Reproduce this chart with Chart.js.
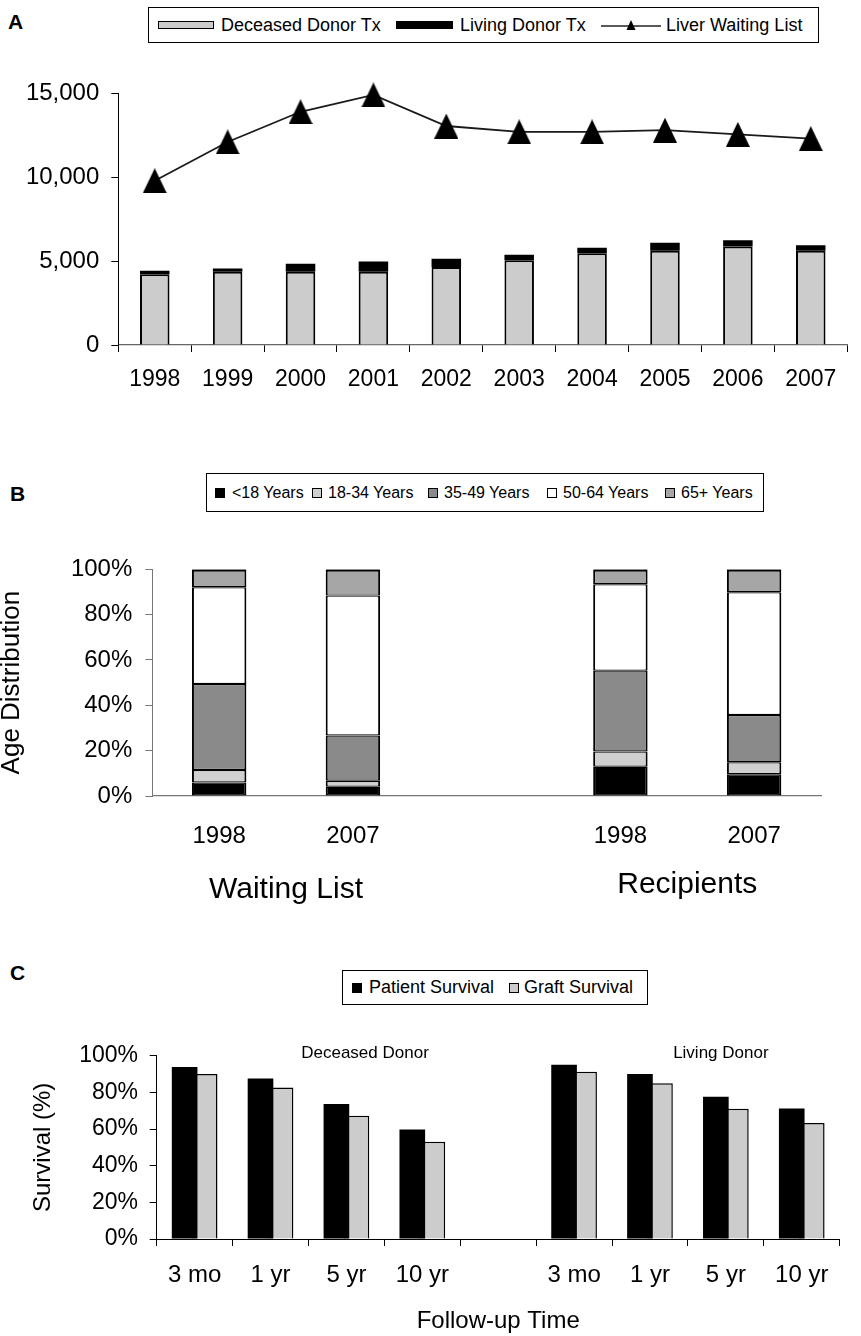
<!DOCTYPE html>
<html>
<head>
<meta charset="utf-8">
<script src="https://cdn.jsdelivr.net/npm/chart.js@4.4.1/dist/chart.umd.min.js"></script>
<style>
html,body{margin:0;padding:0;background:#fff;}
body{width:861px;height:1336px;position:relative;overflow:hidden;font-family:"Liberation Sans",Arial,Helvetica,sans-serif;color:#000;}
.panel{position:absolute;font-weight:bold;font-size:21px;height:21px;line-height:21px;}
.legend{position:absolute;border:1px solid #000;box-sizing:border-box;background:#fff;}
.sw{position:absolute;box-sizing:border-box;}
.lt{position:absolute;top:0;white-space:nowrap;}
canvas{position:absolute;left:0;}
</style>
</head>
<body>
<div class="panel" style="left:8px;top:11px">A</div>
<div class="panel" style="left:10px;top:483px">B</div>
<div class="panel" style="left:10px;top:962px">C</div>
<div class="legend" id="legA"></div>
<div class="legend" id="legB"></div>
<div class="legend" id="legC"></div>
<canvas id="cA" width="861" height="350" style="top:50px"></canvas>
<canvas id="cB" width="861" height="380" style="top:530px"></canvas>
<canvas id="cC" width="861" height="326" style="top:1010px"></canvas>
<script>
// ---------- Panel A data ----------
const yearsA = ['1998','1999','2000','2001','2002','2003','2004','2005','2006','2007'];
const seriesA = ['Deceased Donor Tx','Living Donor Tx','Liver Waiting List'];
const deceasedTx = [4220,4370,4370,4370,4650,5050,5470,5610,5870,5610];
const livingTx = [200,190,470,610,490,330,330,490,370,330];
const waitingList = [9790,12100,13900,14900,13050,12700,12700,12800,12550,12300];
const ticksA = [0,5000,10000,15000];

// ---------- Panel B data ----------
const slotsB = ['1998','2007','','1998','2007'];
const groupsB = ['Waiting List','Recipients'];
const groupSlotsB = [[0,1],[3,4]];
const ageGroups = ['<18 Years','18-34 Years','35-49 Years','50-64 Years','65+ Years'];
const ageUnder18 = [6.0,4.1,null,12.9,9.6];
const age18to34 = [5.5,2.6,null,6.7,5.3];
const age35to49 = [37.9,20.0,null,35.7,20.8];
const age50to64 = [42.7,61.7,null,38.1,54.2];
const age65plus = [7.9,11.6,null,6.6,10.1];
const ticksB = [0,20,40,60,80,100];

// ---------- Panel C data ----------
const slotsC = ['3 mo','1 yr','5 yr','10 yr','','3 mo','1 yr','5 yr','10 yr'];
const groupsC = ['Deceased Donor','Living Donor'];
const seriesC = ['Patient Survival','Graft Survival'];
const patientSurv = [93.8,87.6,73.7,59.7,null,95.1,90.0,77.6,71.2];
const graftSurv = [90.0,82.7,67.3,53.1,null,91.2,85.0,71.0,63.3];
const ticksC = [0,20,40,60,80,100];

// ---------- styles ----------
const FONT = "'Liberation Sans', Arial, Helvetica, sans-serif";
Chart.defaults.font.family = FONT;
Chart.defaults.color = '#000';
const grayLight = '#cccccc';
const ageColors = ['#000000', '#d0d0d0', '#8a8a8a', '#ffffff', '#a6a6a6'];

// ---------- HTML legends ----------
function buildLegend(id, box, items, fontSize, labels) {
  const el = document.getElementById(id);
  el.style.left = box.left + 'px'; el.style.top = box.top + 'px';
  el.style.width = box.w + 'px'; el.style.height = box.h + 'px';
  const inner = box.h - 2;
  items.forEach((it, i) => {
    if (it.kind === 'rect') {
      const s = document.createElement('div');
      s.className = 'sw';
      s.style.left = it.x + 'px'; s.style.width = it.w + 'px'; s.style.height = it.h + 'px';
      s.style.top = ((inner - it.h) / 2) + 'px';
      s.style.background = it.fill;
      s.style.border = it.border || 'none';
      el.appendChild(s);
    } else {
      const c = document.createElement('canvas');
      c.width = it.w; c.height = 12;
      c.style.position = 'absolute'; c.style.left = it.x + 'px'; c.style.top = ((inner - 12) / 2) + 'px';
      const g = c.getContext('2d');
      g.strokeStyle = '#222'; g.lineWidth = 1.3;
      g.beginPath(); g.moveTo(0, 7); g.lineTo(it.w, 7); g.stroke();
      g.fillStyle = '#000'; g.beginPath();
      g.moveTo(it.w / 2, 1); g.lineTo(it.w / 2 + 4.5, 11); g.lineTo(it.w / 2 - 4.5, 11); g.closePath(); g.fill();
      el.appendChild(c);
    }
    const t = document.createElement('div');
    t.className = 'lt';
    t.textContent = labels[i];
    t.style.left = it.tx + 'px';
    t.style.fontSize = fontSize + 'px';
    t.style.lineHeight = inner + 'px';
    el.appendChild(t);
  });
}
buildLegend('legA', {left:148, top:7, w:671, h:36}, [
  {kind:'rect', x:9, w:56, h:8, fill:grayLight, border:'1.5px solid #000', tx:72},
  {kind:'rect', x:247, w:57, h:8, fill:'#000', tx:311},
  {kind:'line', x:452, w:60, tx:517}
], 18, seriesA);
buildLegend('legB', {left:206, top:473, w:558, h:39},
  ageGroups.map((g, i) => ({kind:'rect', x:[8,105,221,340,458][i], w:10, h:10, fill:ageColors[i], border:'1.5px solid #000', tx:[25,121,237,356,474][i]})),
  16, ageGroups);
buildLegend('legC', {left:342, top:970, w:306, h:35}, [
  {kind:'rect', x:9, w:10, h:10, fill:'#000', border:'1.5px solid #000', tx:26},
  {kind:'rect', x:166, w:10, h:10, fill:grayLight, border:'1.5px solid #000', tx:181}
], 18, seriesC);

// ---------- triangle marker ----------
function makeTri(w, h) {
  const c = document.createElement('canvas');
  c.width = w; c.height = h;
  const g = c.getContext('2d');
  g.fillStyle = '#000';
  g.beginPath(); g.moveTo(w / 2, 0); g.lineTo(w, h); g.lineTo(0, h); g.closePath(); g.fill();
  return c;
}
const tri = makeTri(24, 25);

// ---------- Panel A ----------
new Chart(document.getElementById('cA'), {
  type: 'bar',
  data: {
    labels: yearsA,
    datasets: [
      {type:'line', label:seriesA[2], data:waitingList, borderColor:'#1a1a1a', borderWidth:1.8,
       pointStyle:tri, pointRadius:12, pointHoverRadius:12, clip:false, stack:'wl', order:0, fill:false},
      {type:'bar', label:seriesA[0], data:deceasedTx, backgroundColor:grayLight, borderColor:'#000', borderWidth:2, stack:'tx', order:1},
      {type:'bar', label:seriesA[1], data:livingTx, backgroundColor:'#000', borderColor:'#000', borderWidth:0, stack:'tx', order:1}
    ]
  },
  options: {
    responsive:false, animation:false, events:[],
    layout:{padding:{top:43.3, right:0, left:0, bottom:0}},
    plugins:{legend:{display:false}, tooltip:{enabled:false}},
    datasets:{bar:{barPercentage:1, categoryPercentage:0.405}},
    scales:{
      x:{stacked:true, offset:true,
         grid:{offset:true, drawOnChartArea:false, drawTicks:true, tickLength:7, color:'#000', lineWidth:1},
         border:{display:true, color:'#666', width:1.3},
         ticks:{font:{size:23}, color:'#000', padding:14, maxRotation:0, autoSkip:false},
         afterFit(s){ s.height = 55; }},
      y:{stacked:true, min:0, max:15000,
         afterBuildTicks(s){ s.ticks = ticksA.map(v => ({value:v})); },
         ticks:{font:{size:24}, color:'#000', padding:12, callback:v => Number(v).toLocaleString('en-US')},
         grid:{drawOnChartArea:false, tickLength:7, color:'#000', lineWidth:1},
         border:{display:true, color:'#000', width:1},
         afterFit(s){ s.width = 118.3; }}
    }
  }
});

// ---------- Panel B ----------
const ageData = [ageUnder18, age18to34, age35to49, age50to64, age65plus];
const groupLabelPlugin = {
  id:'groupLabelsB',
  afterDraw(chart) {
    const x = chart.scales.x, ctx = chart.ctx, ca = chart.chartArea;
    ctx.save();
    ctx.font = '30px ' + FONT; ctx.fillStyle = '#000';
    ctx.textAlign = 'center'; ctx.textBaseline = 'middle';
    groupsB.forEach((g, i) => {
      const [a, b] = groupSlotsB[i];
      const cx = (x.getPixelForValue(a) + x.getPixelForValue(b)) / 2;
      ctx.fillText(g, cx, ca.bottom + (i === 0 ? 94 : 89));
    });
    ctx.restore();
  }
};
new Chart(document.getElementById('cB'), {
  type:'bar',
  data:{
    labels: slotsB,
    datasets: ageGroups.map((g, i) => ({
      label:g, data:ageData[i], backgroundColor:ageColors[i], borderColor:'#000',
      borderWidth:{top: i === 4 ? 2.4 : 1.2, bottom:1.2, left:2, right:2}, borderSkipped:false
    }))
  },
  options:{
    responsive:false, animation:false, events:[],
    layout:{padding:{top:39.3, right:40, left:0, bottom:0}},
    plugins:{legend:{display:false}, tooltip:{enabled:false}},
    datasets:{bar:{barPercentage:1, categoryPercentage:0.407}},
    scales:{
      x:{stacked:true, offset:true,
         grid:{display:false, drawTicks:false},
         border:{display:true, color:'#777', width:1.3},
         ticks:{font:{size:24}, color:'#000', padding:25.6, maxRotation:0, autoSkip:false},
         afterFit(s){ s.height = 114; }},
      y:{stacked:true, min:0, max:100,
         afterBuildTicks(s){ s.ticks = ticksB.map(v => ({value:v})); },
         ticks:{font:{size:24}, color:'#000', padding:13, callback:v => v + '%'},
         grid:{drawOnChartArea:false, tickLength:7, color:'#777', lineWidth:1},
         border:{display:true, color:'#777', width:1},
         title:{display:true, text:'Age Distribution', font:{size:26}, color:'#000', padding:{top:-3.9, bottom:0}},
         afterFit(s){ s.width = 152.3; }}
    }
  },
  plugins:[groupLabelPlugin]
});

// ---------- Panel C ----------
const groupPosC = [0.305, 0.826];
const annotPluginC = {
  id:'groupLabelsC',
  afterDraw(chart) {
    const ctx = chart.ctx, ca = chart.chartArea;
    ctx.save();
    ctx.font = '17px ' + FONT; ctx.fillStyle = '#000';
    ctx.textAlign = 'center'; ctx.textBaseline = 'middle';
    groupsC.forEach((g, i) => {
      ctx.fillText(g, ca.left + groupPosC[i] * (ca.right - ca.left), ca.top - 2);
    });
    ctx.restore();
  }
};
new Chart(document.getElementById('cC'), {
  type:'bar',
  data:{
    labels: slotsC,
    datasets:[
      {label:seriesC[0], data:patientSurv, backgroundColor:'#000', borderColor:'#000', borderWidth:0},
      {label:seriesC[1], data:graftSurv, backgroundColor:grayLight, borderColor:'#000', borderWidth:1.5}
    ]
  },
  options:{
    responsive:false, animation:false, events:[],
    layout:{padding:{top:45.7, right:21.3, left:0, bottom:0}},
    plugins:{legend:{display:false}, tooltip:{enabled:false}},
    datasets:{bar:{barPercentage:1.28, categoryPercentage:0.528}},
    scales:{
      x:{offset:true,
         grid:{offset:true, drawOnChartArea:false, drawTicks:true, tickLength:7, color:'#000', lineWidth:1},
         border:{display:true, color:'#000', width:1},
         ticks:{font:{size:24}, color:'#000', padding:14.6, maxRotation:0, autoSkip:false},
         title:{display:true, text:'Follow-up Time', font:{size:24}, color:'#000', padding:{top:0, bottom:0}},
         afterFit(s){ s.height = 97; }},
      y:{min:0, max:100,
         afterBuildTicks(s){ s.ticks = ticksC.map(v => ({value:v})); },
         ticks:{font:{size:23}, color:'#000', padding:11.7, callback:v => v + '%'},
         grid:{drawOnChartArea:false, tickLength:7, color:'#000', lineWidth:1},
         border:{display:true, color:'#000', width:1},
         title:{display:true, text:'Survival (%)', font:{size:24}, color:'#000', padding:{top:29, bottom:0}},
         afterFit(s){ s.width = 156.7; }}
    }
  },
  plugins:[annotPluginC]
});
</script>
</body>
</html>
